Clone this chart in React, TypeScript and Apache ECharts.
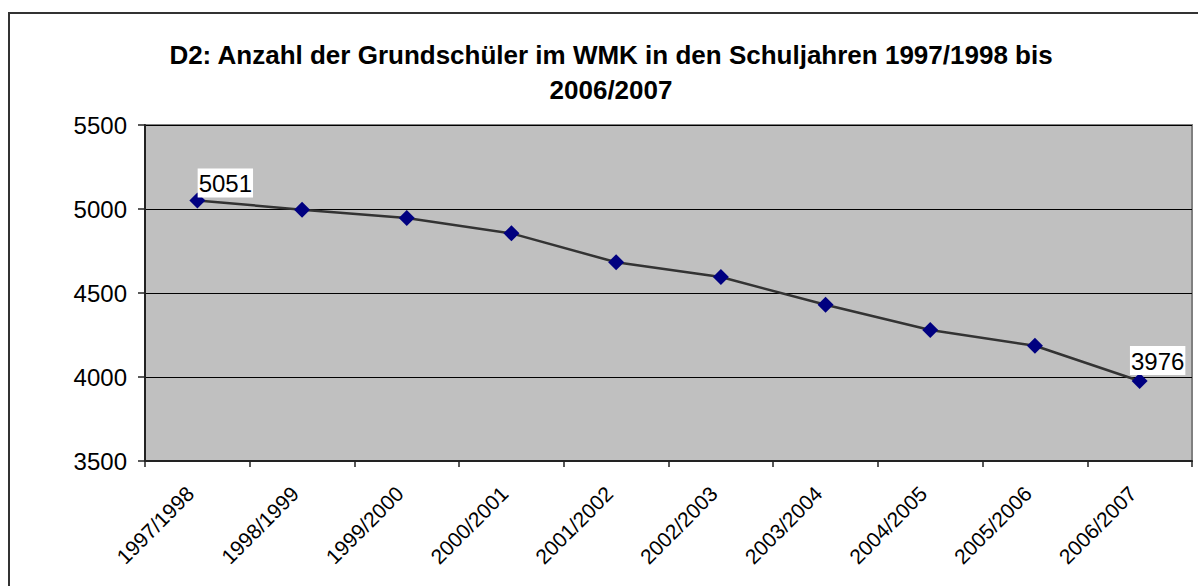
import React, { useEffect, useRef } from "react";
import * as echarts from "echarts";

const titleLines = [
  "D2: Anzahl der Grundschüler im WMK in den Schuljahren 1997/1998 bis",
  "2006/2007",
];
const categories = [
  "1997/1998",
  "1998/1999",
  "1999/2000",
  "2000/2001",
  "2001/2002",
  "2002/2003",
  "2003/2004",
  "2004/2005",
  "2005/2006",
  "2006/2007",
];
const pupils = [5051, 4996, 4946, 4855, 4683, 4595, 4430, 4280, 4186, 3976];
const labelledIndices = [0, 9];
const yMin = 3500;
const yMax = 5500;
const yStep = 500;

const FONT = "'Liberation Sans', Arial, sans-serif";

export default function App() {
  const ref = useRef<HTMLDivElement>(null);
  useEffect(() => {
    if (!ref.current) return;
    const chart = echarts.init(ref.current, undefined, { renderer: "svg" });
    const labelOffsets: Record<number, number[]> = { 0: [28, 5], 9: [18, 2] };
    const data = pupils.map((v, i) =>
      labelledIndices.includes(i)
        ? {
            value: v,
            label: {
              show: true,
              position: "top",
              distance: 0,
              offset: labelOffsets[i],
              fontSize: 24,
              fontFamily: FONT,
              color: "#000",
              backgroundColor: "#fff",
              padding: [3, 1, 2, 1],
            },
          }
        : v
    );
    chart.setOption({
      animation: false,
      backgroundColor: "#fff",
      textStyle: { fontFamily: FONT },
      title: {
        text: titleLines.join("\n"),
        left: 606,
        top: 32,
        textAlign: "center",
        textStyle: {
          fontFamily: FONT,
          fontSize: 26,
          fontWeight: "bold",
          color: "#000",
          lineHeight: 35,
        },
      },
      graphic: [
        {
          type: "rect",
          shape: { x: 9, y: 13, width: 1250, height: 700 },
          style: { fill: "none", stroke: "#333", lineWidth: 2 },
          silent: true,
          z: 100,
        },
      ],
      grid: {
        left: 145,
        top: 125,
        right: 6,
        bottom: 125,
        show: true,
        backgroundColor: "#c0c0c0",
        borderColor: "#808080",
        borderWidth: 2,
      },
      xAxis: {
        type: "category",
        data: categories,
        boundaryGap: true,
        axisLine: { show: true, lineStyle: { color: "#222", width: 2 } },
        axisTick: { show: true, inside: false, length: 6, lineStyle: { color: "#222", width: 1.5 } },
        axisLabel: {
          rotate: 45,
          interval: 0,
          margin: 22,
          padding: [0, 10, 0, 0],
          fontSize: 21,
          fontFamily: FONT,
          color: "#000",
        },
        splitLine: { show: false },
      },
      yAxis: {
        type: "value",
        min: yMin,
        max: yMax,
        interval: yStep,
        axisLine: { show: true, lineStyle: { color: "#222", width: 2 } },
        axisTick: { show: true, inside: false, length: 7, lineStyle: { color: "#222", width: 1.5 } },
        axisLabel: {
          margin: 18,
          fontSize: 24,
          fontFamily: FONT,
          color: "#000",
          formatter: (v: number) => String(v),
        },
        splitLine: { show: true, lineStyle: { color: "#000", width: 1 } },
      },
      series: [
        {
          type: "line",
          data,
          symbol: "diamond",
          symbolSize: 16,
          itemStyle: { color: "#000080" },
          lineStyle: { color: "#333", width: 2.5 },
          label: { show: false },
          z: 3,
        },
      ],
    });
    return () => chart.dispose();
  }, []);
  return (
    <div
      ref={ref}
      style={{ position: "fixed", left: 0, top: 0, width: 1198, height: 586 }}
    />
  );
}
